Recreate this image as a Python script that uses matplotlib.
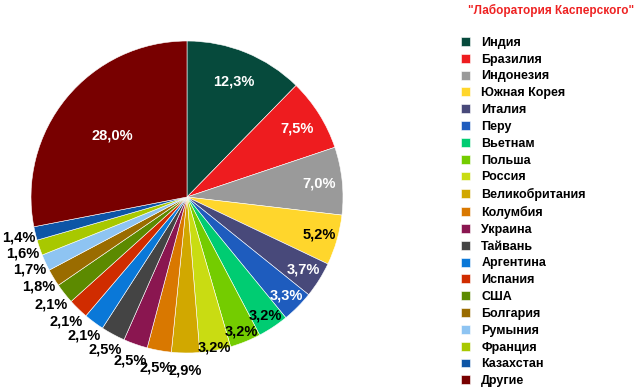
import numpy as np
import matplotlib.pyplot as plt

plt.rcParams['font.family'] = ['Liberation Sans', 'DejaVu Sans']

# Data
countries = ["Индия", "Бразилия", "Индонезия", "Южная Корея", "Италия", "Перу",
             "Вьетнам", "Польша", "Россия", "Великобритания", "Колумбия", "Украина",
             "Тайвань", "Аргентина", "Испания", "США", "Болгария", "Румыния",
             "Франция", "Казахстан", "Другие"]
shares = [12.3, 7.5, 7.0, 5.2, 3.7, 3.3, 3.2, 3.2, 3.2, 2.9, 2.5, 2.5,
          2.5, 2.1, 2.1, 2.1, 1.8, 1.7, 1.6, 1.4, 28.0]
source = '"Лаборатория Касперского"'

# Style
colors = ["#064a3c", "#ee1c1f", "#9a9a9a", "#ffd62c", "#48497a", "#1e5cbe",
          "#00cc72", "#74cc00", "#c9dc12", "#d1a800", "#d97800", "#8a1650",
          "#444444", "#0a78d8", "#d02c00", "#5c8a00", "#9a6c00", "#8ec4f2",
          "#a8c800", "#0d55a6", "#780000"]
label_colors = ["white", "white", "white", "black", "white", "white",
                "black", "black", "black"] + ["black"] * 11 + ["white"]
label_dist = [0.80, 0.83, 0.85, 0.88, 0.88, 0.90, 0.91, 0.93, 0.98] + [1.11] * 11 + [0.62]

fig = plt.figure(figsize=(6.39, 3.88), dpi=100)
ax = fig.add_axes([(187 - 156) / 639, (388 - 197 - 156) / 388, 312 / 639, 312 / 388])

wedges, _ = ax.pie(shares, colors=colors, startangle=90, counterclock=False,
                   wedgeprops=dict(edgecolor="white", linewidth=0.4))
ax.set_xlim(-1, 1)
ax.set_ylim(-1, 1)
ax.set_aspect("equal")

# percentage labels at each wedge's mid angle
for w, v, c, d in zip(wedges, shares, label_colors, label_dist):
    ang = np.deg2rad((w.theta1 + w.theta2) / 2)
    ax.text(d * np.cos(ang), d * np.sin(ang), f"{v:.1f}%".replace(".", ","),
            ha="center", va="center", color=c, fontsize=10.5, fontweight="bold")

fig.text(0.992, 0.972, source, ha="right", va="center", color="#ee2222",
         fontsize=8.5, fontweight="bold")

fig.legend(wedges, countries, loc="upper left", bbox_to_anchor=(0.7214, 0.905),
           frameon=False, prop=dict(weight="bold", size=9),
           handlelength=0.72, handleheight=0.72, handletextpad=0.9,
           labelspacing=0.385, borderpad=0, borderaxespad=0)

fig.savefig("out.png", dpi=100)
